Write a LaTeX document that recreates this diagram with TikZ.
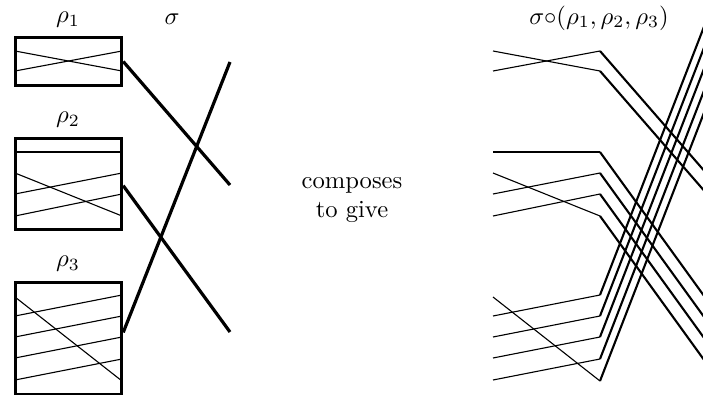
\documentclass[tikz,border=0pt]{standalone}
\usepackage{amssymb}
\usepackage{tikz}
\usetikzlibrary{calc, positioning}

\begin{document}
\begin{tikzpicture}[x=0.4065pt, y=-0.4065pt, every node/.style={font=\normalsize},
  permbox/.style={draw, line width=1.2pt, inner sep=0pt, minimum width=43.3pt},
  strand/.style={line width=0.45pt},
  sigline/.style={line width=1.3pt},
  bigstrand/.style={line width=0.85pt}]
  \clip (0,0) rectangle (703,402);
  \node[permbox, minimum height=19.4pt] (box1) at (68.5,61.5) {};
  \node[permbox, minimum height=36.9pt] (box2) at (68.5,183.7) {};
  \node[permbox, minimum height=45.3pt] (box3) at (68.5,338.3) {};
  \node (rho1) at (68,20) {$\rho_1$};
  \node (rho2) at (68,120) {$\rho_2$};
  \node (rho3) at (68,264) {$\rho_3$};
  \node (sig) at (172,19) {$\sigma$};
  \node (comp) at (599,18) {$\sigma{\circ}(\rho_1,\rho_2,\rho_3)$};
  \node[align=center] (give) at (352,200) {composes\\to give};
  \foreach \a/\b in {51/71, 71/51, 152/152, 173/216, 194/173, 216/194, 297/381, 316/295, 337/316, 358/337, 380/359}
    \draw[strand] (15,\a) -- (122,\b);
  \coordinate (s1) at (230,185);
  \coordinate (s2) at (230,332);
  \coordinate (s3) at (230,62);
  \draw[sigline] (box1.east) -- (s1);
  \draw[sigline] ([yshift=-0.8pt]box2.east) -- (s2);
  \draw[sigline] ([yshift=2.4pt]box3.east) -- (s3);
  \foreach \a/\b/\c in {51/71/194, 71/51/174, 152/152/300, 173/216/364, 194/173/321, 216/194/342, 297/381/105, 316/295/19, 337/316/40, 358/337/61, 380/359/83} {
    \draw[strand] (493,\a) -- (600,\b);
    \draw[bigstrand] (600,\b) -- (707,\c);
  }
\end{tikzpicture}
\end{document}
